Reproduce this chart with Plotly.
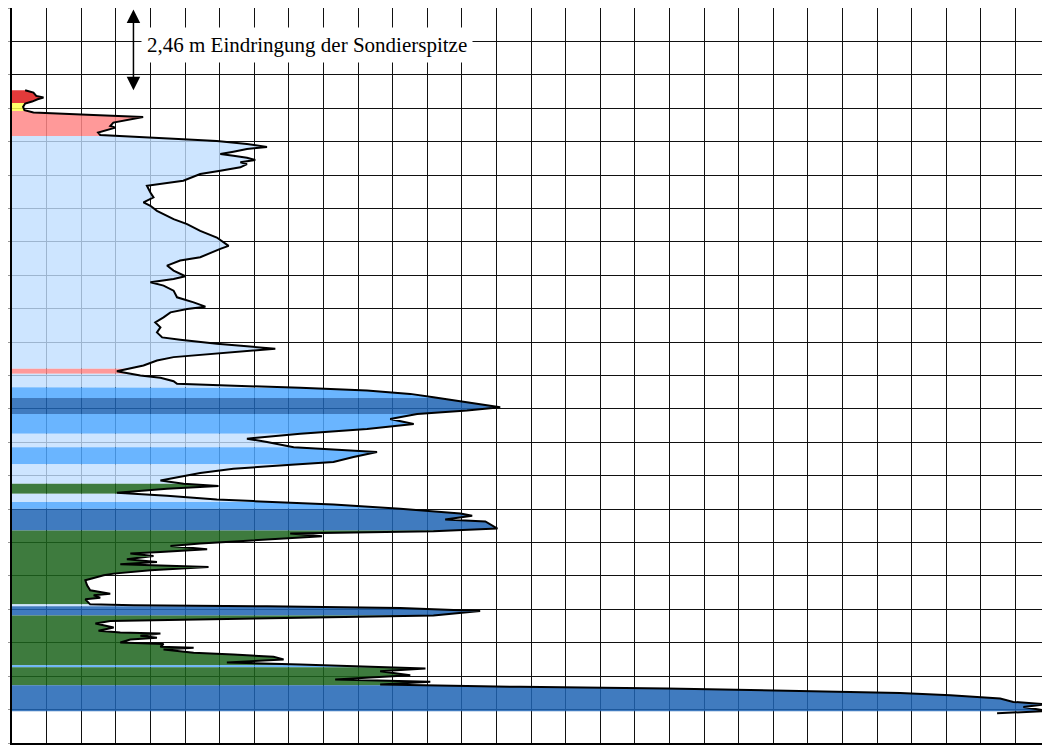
import numpy as np
import plotly.graph_objects as go

# Cone penetration profile: depth (m) and cone resistance qc (MPa)
depth_m = [2.46, 2.53, 2.63, 2.68, 2.73, 2.80, 2.86, 2.96, 3.06, 3.13, 3.20, 3.26, 3.43, 3.53, 3.58,
           3.73, 3.80, 3.83, 3.88, 3.93, 3.98, 4.03, 4.07, 4.16, 4.22, 4.30, 4.37, 4.42, 4.48, 4.55,
           4.62, 4.67, 4.77, 4.87, 4.97, 5.17, 5.27, 5.32, 5.52, 5.67, 5.82, 5.92, 6.07, 6.32, 6.47,
           6.67, 6.87, 7.12, 7.21, 7.46, 7.56, 7.71, 7.86, 8.03, 8.11, 8.21, 8.31, 8.46, 8.66, 8.81,
           8.94, 9.01, 9.11, 9.26, 9.41, 9.56, 9.71, 9.86, 9.93, 10.05, 10.20, 10.35, 10.45, 10.55,
           10.70, 10.87, 11.00, 11.07, 11.17, 11.25, 11.30, 11.37, 11.45, 11.55, 11.65, 11.80, 11.95,
           12.05, 12.15, 12.30, 12.45, 12.60, 12.74, 12.89, 12.99, 13.15, 13.22, 13.29, 13.44, 13.59,
           13.69, 13.79, 13.92, 14.04, 14.14, 14.24, 14.31, 14.39, 14.51, 14.60, 14.71, 14.76, 14.86,
           14.99, 15.13, 15.20, 15.31, 15.37, 15.58, 15.66, 15.70, 15.73, 15.81, 15.93, 16.03, 16.10,
           16.20, 16.28, 16.33, 16.40, 16.50, 16.58, 16.65, 16.73, 16.83, 16.93, 16.98, 17.06, 17.13,
           17.28, 17.43, 17.53, 17.58, 17.65, 17.70, 17.85, 17.88, 17.91, 17.96, 18.05, 18.18, 18.25,
           18.30, 18.35, 18.42, 18.54, 18.64, 18.69, 18.72, 18.79, 18.85, 18.90, 18.99, 19.04, 19.12,
           19.15, 19.20, 19.30, 19.35, 19.42, 19.50, 19.59, 19.65, 19.72, 19.77, 19.85, 19.97, 20.10,
           20.17, 20.25, 20.32, 20.37, 20.44, 20.50, 20.57, 20.67, 20.77, 20.84, 20.92, 21.04, 21.11]
qc_MPa = [0.38, 0.62, 0.70, 0.91, 0.74, 0.58, 0.38, 0.32, 0.36, 0.62, 2.35, 3.79, 2.93, 2.84, 2.99,
          2.49, 2.55, 3.03, 4.00, 4.95, 5.92, 6.50, 6.79, 7.37, 6.79, 6.40, 6.02, 6.40, 6.79, 7.03,
          6.60, 6.79, 6.60, 6.02, 5.44, 4.95, 4.28, 3.90, 4.00, 4.09, 3.80, 4.00, 4.19, 4.67, 5.06,
          5.44, 5.92, 6.26, 6.02, 5.44, 4.86, 4.48, 4.67, 5.01, 4.67, 4.00, 4.38, 4.67, 4.77, 5.25,
          5.59, 5.06, 4.58, 4.38, 4.14, 4.29, 4.19, 4.34, 4.86, 5.92, 7.61, 5.92, 4.67, 4.19,
          3.80, 3.03, 3.71, 4.29, 4.67, 4.77, 6.40, 8.33, 10.26, 11.51, 12.18, 13.15, 14.11,
          13.15, 11.71, 10.93, 11.61, 10.26, 8.33, 6.79, 7.37, 8.14, 9.29, 10.55, 9.87, 9.29,
          7.85, 6.40, 5.44, 4.77, 4.29, 4.96, 5.97, 4.48, 3.03, 4.48, 5.92, 6.98, 9.29,
          11.22, 12.96, 13.30, 12.52, 13.68, 14.03, 12.18, 9.29, 8.04, 8.96, 6.89, 5.44, 4.58,
          5.64, 4.29, 3.42, 4.09, 3.32, 4.19, 3.13, 5.68, 4.00, 2.94, 2.65, 2.36, 2.12,
          2.17, 2.26, 2.84, 2.36, 2.55, 2.12, 2.26, 3.51, 7.37, 11.22, 13.53, 12.18, 8.33,
          5.44, 2.84, 2.41, 2.94, 2.50, 3.13, 4.29, 3.71, 4.19, 3.42, 3.13, 4.38, 4.29,
          5.25, 4.38, 5.25, 6.40, 7.56, 7.85, 6.21, 8.33, 10.26, 11.95, 10.64, 11.51, 9.34,
          12.09, 10.64, 14.69, 18.93, 22.78, 25.67, 27.12, 28.56, 28.94, 29.91, 29.23, 29.95, 28.47]

# Soil layers (classified bands)
layer_top = [2.46, 2.84, 3.08, 3.83, 10.80, 10.95, 11.35, 11.67, 12.15, 12.74, 13.15, 13.66, 14.24,
             14.54, 14.79, 14.99, 15.64, 17.85, 17.91, 18.18, 19.67, 19.73, 20.27]
layer_bottom = [2.84, 3.08, 3.83, 10.80, 10.95, 11.35, 11.67, 12.15, 12.74, 13.15, 13.66, 14.24, 14.54,
                14.79, 14.99, 15.64, 17.85, 17.91, 18.18, 19.67, 19.73, 20.27, 21.05]
layer_class = ["red", "yellow", "pink", "lightblue", "pink", "lightblue", "midblue", "darkblue",
               "midblue", "lightblue", "midblue", "lightblue", "green", "lightblue", "midblue",
               "darkblue", "green", "lightblue", "darkblue", "green", "midblue", "green", "darkblue"]

class_colors = {
    "red": "rgba(222,24,24,0.85)",
    "yellow": "rgba(255,255,80,0.85)",
    "pink": "rgba(255,135,135,0.85)",
    "lightblue": "rgba(192,222,255,0.8)",
    "midblue": "rgba(80,168,255,0.85)",
    "darkblue": "rgba(30,100,180,0.85)",
    "green": "rgba(28,100,28,0.85)",
}

d = np.array(depth_m)
q = np.array(qc_MPa)

fig = go.Figure()

for top, bot, cls in zip(layer_top, layer_bottom, layer_class):
    mask = (d > top) & (d < bot)
    ys = [top] + list(d[mask]) + [bot]
    xs = [float(np.interp(top, d, q))] + list(q[mask]) + [float(np.interp(bot, d, q))]
    fig.add_trace(go.Scatter(
        x=[0] + xs + [0], y=[top] + ys + [bot],
        mode="lines", fill="toself", fillcolor=class_colors[cls],
        line=dict(width=0), hoverinfo="skip", showlegend=False))

fig.add_trace(go.Scatter(x=q, y=d, mode="lines", line=dict(color="black", width=2),
                         showlegend=False))

penetration = 2.46
fig.add_annotation(x=3.51, y=penetration, ax=3.51, ay=0, xref="x", yref="y", axref="x", ayref="y",
                   text="", showarrow=True, arrowhead=2, startarrowhead=2, arrowside="end+start",
                   arrowsize=1.8, arrowwidth=1.5, arrowcolor="black", standoff=0, startstandoff=0)
fig.add_annotation(x=3.72, y=1.12, xref="x", yref="y", xanchor="left", yanchor="middle",
                   text="2,46 m Eindringung der Sondierspitze", showarrow=False,
                   font=dict(family="Liberation Serif", size=21, color="black"),
                   bgcolor="white", borderpad=5)

axis_common = dict(showgrid=True, gridcolor="#111", gridwidth=1, zeroline=False,
                   showline=True, linecolor="black", linewidth=2, mirror=True,
                   showticklabels=False, ticks="outside", dtick=1, tick0=0, automargin=False)
fig.update_xaxes(range=[0, 30], side="top", ticklen=7, tickcolor="#ccc", **axis_common)
fig.update_yaxes(range=[22, 0], ticklen=11, tickcolor="#999", **axis_common)

# The page adds an 8 px body margin, compensated here
fig.update_layout(width=1050, height=747, margin=dict(l=4, r=8, t=0, b=12),
                  plot_bgcolor="white", paper_bgcolor="white")

fig.write_html("out.html")
